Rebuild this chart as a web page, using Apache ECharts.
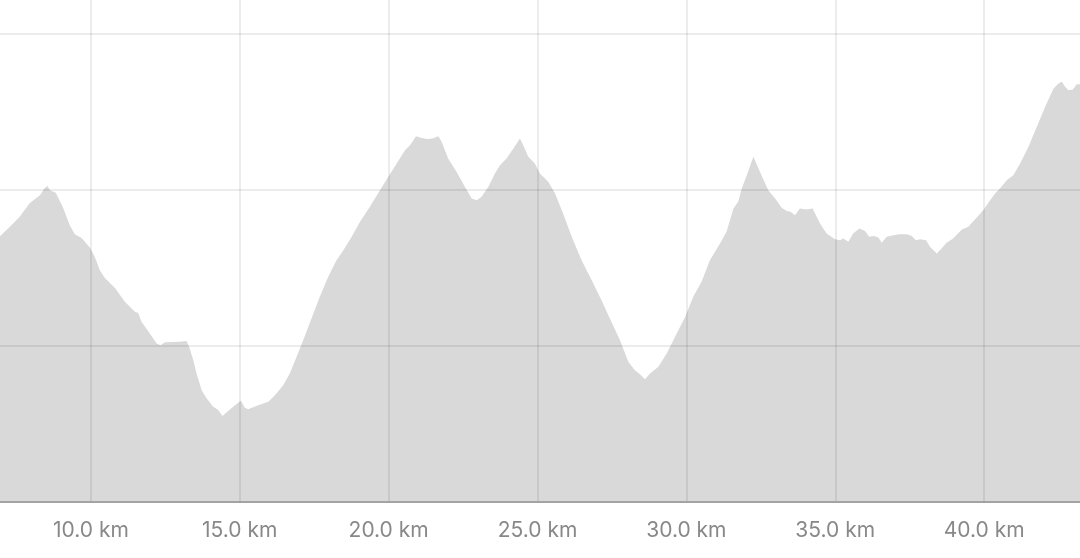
<!DOCTYPE html>
<html>
<head>
<meta charset="utf-8">
<style>
  html, body { margin: 0; padding: 0; background: #ffffff; }
  #chart { width: 1080px; height: 558px; }
</style>
<script src="https://cdn.jsdelivr.net/npm/echarts@6/dist/echarts.min.js"></script>
</head>
<body>
<div id="chart"></div>
<script>
// Distance along the route (km)
const distanceKm = [
  6.88, 7.28, 7.61, 7.95, 8.29, 8.45, 8.55, 8.62, 8.82, 9.07,
  9.29, 9.46, 9.69, 9.97, 10.13, 10.30, 10.47, 10.81, 11.14, 11.48,
  11.59, 11.70, 11.98, 12.21, 12.34, 12.49, 12.99, 13.21, 13.30, 13.44,
  13.55, 13.72, 13.89, 14.11, 14.28, 14.42, 14.61, 14.84, 15.04, 15.17,
  15.28, 15.62, 15.96, 16.18, 16.46, 16.68, 16.91, 17.13, 17.41, 17.69,
  17.97, 18.25, 18.48, 18.76, 19.04, 19.37, 19.71, 19.99, 20.27, 20.55,
  20.72, 20.92, 21.11, 21.28, 21.48, 21.67, 21.78, 22.00, 22.28, 22.56,
  22.79, 22.96, 23.12, 23.35, 23.57, 23.74, 23.96, 24.19, 24.41, 24.52,
  24.69, 24.91, 25.08, 25.36, 25.59, 25.86, 26.15, 26.48, 26.82, 27.15,
  27.43, 27.77, 28.05, 28.27, 28.44, 28.61, 28.78, 29.06, 29.34, 29.62,
  29.96, 30.23, 30.51, 30.79, 31.13, 31.35, 31.58, 31.74, 31.86, 32.03,
  32.25, 32.47, 32.75, 32.98, 33.20, 33.37, 33.50, 33.65, 33.81, 34.04,
  34.24, 34.49, 34.71, 34.99, 35.16, 35.27, 35.44, 35.60, 35.81, 36.00,
  36.14, 36.30, 36.45, 36.56, 36.73, 36.95, 37.17, 37.40, 37.57, 37.71,
  37.85, 38.05, 38.18, 38.41, 38.57, 38.74, 38.96, 39.25, 39.47, 39.69,
  39.97, 40.20, 40.37, 40.53, 40.76, 40.98, 41.21, 41.49, 41.77, 42.05,
  42.33, 42.50, 42.61, 42.72, 42.83, 42.98, 43.11, 43.29
];
// Elevation (relative units; grid lines every 100)
const elevation = [
  168.9, 176.1, 182.5, 191.3, 196.4, 200.9, 202.3, 199.6, 197.9, 188.1,
  177.2, 171.4, 168.9, 162.7, 156.9, 148.4, 143.3, 136.9, 128.1, 121.7,
  120.9, 115.3, 107.9, 101.5, 100.4, 102.2, 102.5, 103.0, 99.3, 90.8,
  82.3, 71.6, 66.3, 61.0, 58.9, 55.0, 58.2, 62.0, 64.8, 60.3,
  59.3, 62.0, 64.2, 68.4, 74.8, 82.3, 92.9, 103.6, 117.5, 131.3,
  144.1, 154.8, 161.2, 169.7, 179.3, 188.9, 199.6, 208.1, 216.7, 225.2,
  228.4, 234.1, 233.0, 232.4, 232.6, 234.1, 230.5, 219.9, 211.3, 201.7,
  194.3, 193.2, 195.3, 201.7, 210.3, 215.6, 219.9, 226.3, 232.6, 228.4,
  220.9, 216.7, 210.3, 204.9, 197.5, 184.7, 169.7, 154.8, 142.0, 129.2,
  117.5, 103.6, 89.7, 84.4, 81.7, 78.5, 82.3, 86.5, 95.1, 105.7,
  118.5, 131.3, 140.9, 154.8, 165.5, 172.9, 187.9, 192.1, 200.7, 209.2,
  220.9, 211.3, 199.6, 194.3, 188.3, 186.3, 185.7, 183.6, 187.9, 187.2,
  187.9, 178.3, 171.9, 168.2, 167.6, 168.7, 166.5, 171.9, 175.1, 173.5,
  169.7, 170.2, 169.3, 165.9, 169.7, 170.8, 171.4, 171.4, 170.2, 167.6,
  168.2, 167.6, 163.3, 159.1, 162.3, 165.9, 168.7, 174.4, 176.1, 180.8,
  186.8, 193.2, 197.5, 200.7, 206.0, 209.2, 216.7, 227.3, 240.1, 252.9,
  264.6, 267.8, 268.9, 265.7, 263.5, 264.0, 267.4, 267.4
];
const xTickStepKm = 5;
const xTickUnit = ' km';

const points = distanceKm.map((d, i) => [d, elevation[i]]);

const chart = echarts.init(document.getElementById('chart'), null, { renderer: 'canvas' });
chart.setOption({
  animation: false,
  backgroundColor: '#ffffff',
  grid: { left: -58, right: -53, top: -123, bottom: 56, containLabel: false, outerBoundsMode: 'none' },
  xAxis: {
    type: 'value',
    min: 5,
    max: 45,
    interval: xTickStepKm,
    z: 5,
    axisLine: { show: true, lineStyle: { color: '#a3a3a3', width: 2 } },
    axisTick: { show: false },
    axisLabel: {
      color: '#888888',
      fontFamily: 'Inter, "Noto Sans", sans-serif',
      fontSize: 21,
      margin: 18,
      formatter: v => v.toFixed(1) + xTickUnit
    },
    splitLine: { show: true, lineStyle: { color: 'rgba(0,0,0,0.075)', width: 2 } }
  },
  yAxis: {
    type: 'value',
    min: 0,
    max: 400,
    interval: 100,
    z: 5,
    axisLine: { show: false },
    axisTick: { show: false },
    axisLabel: { show: false },
    splitLine: { show: true, lineStyle: { color: 'rgba(0,0,0,0.075)', width: 2 } }
  },
  series: [{
    type: 'line',
    data: points,
    showSymbol: false,
    symbol: 'none',
    smooth: false,
    lineStyle: { width: 0, color: '#d9d9d9' },
    areaStyle: { color: '#d9d9d9', opacity: 1 },
    z: 2
  }]
});
</script>
</body>
</html>
